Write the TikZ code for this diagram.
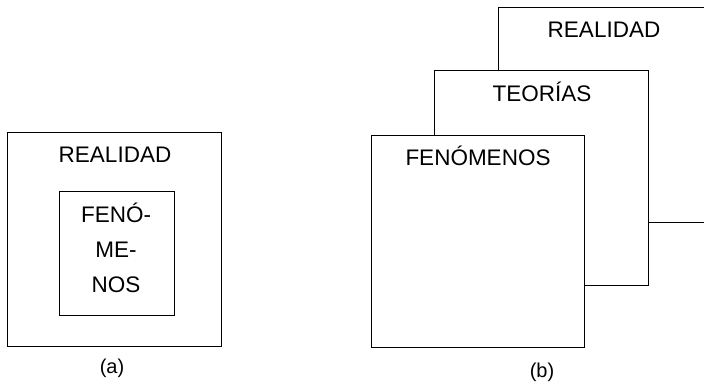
\documentclass[tikz,border=0pt]{standalone}
\usepackage{fontspec}
\setmainfont{Liberation Sans}
\begin{document}
\begin{tikzpicture}[x=1pt,y=1pt,
  panel/.style={draw=black,line width=1pt,fill=white},
  lbl/.style={anchor=base,inner sep=0pt,font=\fontsize{22.5}{27}\selectfont},
  sublbl/.style={anchor=base,inner sep=0pt,font=\fontsize{20}{24}\selectfont}]
\useasboundingbox (0,0) rectangle (704,387);
\clip (0,0) rectangle (704,387);
\fill[white] (0,0) rectangle (704,387);
% (a)
\draw[panel] (7,{387-133}) rectangle (221,{387-347});
\draw[panel] (59,{387-192}) rectangle (174,{387-316});
\node[lbl] (ra) at (115,{387-163}) {REALIDAD};
\node[lbl] (fa1) at (116,{387-223}) {FENÓ-};
\node[lbl] (fa2) at (116,{387-258}) {ME-};
\node[lbl] (fa3) at (116,{387-293}) {NOS};
\node[sublbl] (la) at (112,{387-374}) {(a)};
% (b)
\draw[panel] (498,{387-8}) rectangle (712,{387-223});
\draw[panel] (434,{387-71}) rectangle (648,{387-286});
\draw[panel] (371,{387-136}) rectangle (584,{387-348});
\node[lbl] (rb) at (604,{387-38}) {REALIDAD};
\node[lbl] (tb) at (542,{387-102}) {TEORÍAS};
\node[lbl] (fb) at (478,{387-166}) {FENÓMENOS};
\node[sublbl] (lb) at (542,{387-378}) {(b)};
\end{tikzpicture}
\end{document}
